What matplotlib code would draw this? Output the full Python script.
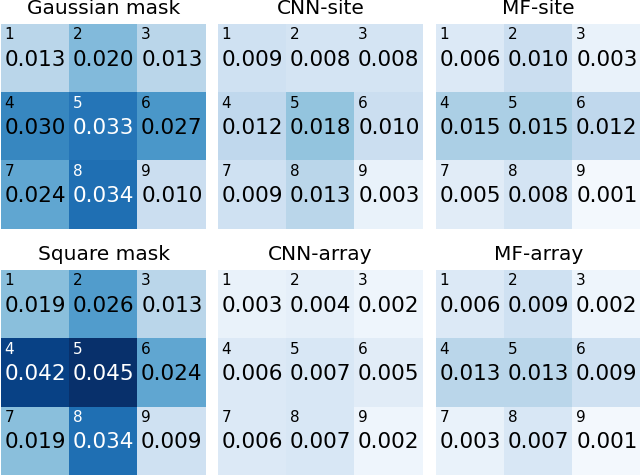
import numpy as np
import matplotlib
matplotlib.use("Agg")
import matplotlib.pyplot as plt

titles = ["Gaussian mask", "CNN-site", "MF-site", "Square mask", "CNN-array", "MF-array"]
gaussian_mask = [0.013, 0.020, 0.013, 0.030, 0.033, 0.027, 0.024, 0.034, 0.010]
cnn_site = [0.009, 0.008, 0.008, 0.012, 0.018, 0.010, 0.009, 0.013, 0.003]
mf_site = [0.006, 0.010, 0.003, 0.015, 0.015, 0.012, 0.005, 0.008, 0.001]
square_mask = [0.019, 0.026, 0.013, 0.042, 0.045, 0.024, 0.019, 0.034, 0.009]
cnn_array = [0.003, 0.004, 0.002, 0.006, 0.007, 0.005, 0.006, 0.007, 0.002]
mf_array = [0.006, 0.009, 0.002, 0.013, 0.013, 0.009, 0.003, 0.007, 0.001]
panels = [gaussian_mask, cnn_site, mf_site, square_mask, cnn_array, mf_array]
cell_labels = ["1", "2", "3", "4", "5", "6", "7", "8", "9"]

vmin, vmax = 0.0, 0.045
fig = plt.figure(figsize=(6.4, 4.76), dpi=100)
W, H = 640, 476
lefts = [1, 218, 436]
tops = [24, 270]
size = 205
for k, (title, vals) in enumerate(zip(titles, panels)):
    r, c = divmod(k, 3)
    ax = fig.add_axes([lefts[c] / W, (H - tops[r] - size) / H, size / W, size / H])
    arr = np.array(vals).reshape(3, 3)
    ax.imshow(arr, cmap="Blues", vmin=vmin, vmax=vmax, aspect="auto")
    for i in range(3):
        for j in range(3):
            v = arr[i, j]
            col = "white" if v > 0.0315 else "black"
            ax.text(j, i + 0.02, f"{v:.3f}", ha="center", va="center", fontsize=15.5, color=col)
            ax.text(j - 0.45, i - 0.45, cell_labels[i * 3 + j], ha="left", va="top",
                    fontsize=11, color=col)
    ax.set_xticks([])
    ax.set_yticks([])
    for s in ax.spines.values():
        s.set_visible(False)
    ax.set_title(title, fontsize=14.5, pad=7)

fig.savefig("out.png", dpi=100)
